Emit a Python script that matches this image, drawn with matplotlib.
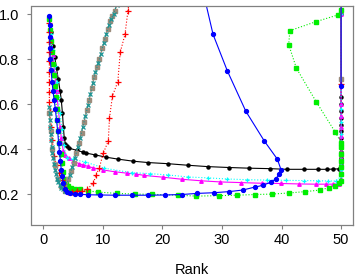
import matplotlib
matplotlib.use("Agg")
import matplotlib.pyplot as plt

plt.rcParams['font.family'] = ['Liberation Sans', 'DejaVu Sans']

# rank / score pairs, one pair of lists per series
black_x = [1, 1.3, 1.6, 1.9, 2.2, 2.5, 2.8, 3.0, 3.2, 3.35, 3.5, 3.7, 3.9, 4.35, 5.6, 6.6, 7.2, 8.7,
           10.5, 12.6, 15.1, 17.6, 20.9, 24.3, 27.6, 31.2, 34.6, 38.0, 40.9, 43.8, 46.1, 47.7, 48.7,
           49.6, 50, 50, 50, 50, 50, 50, 50, 50, 50, 50, 50, 50]
black_y = [0.98, 0.92, 0.86, 0.81, 0.76, 0.71, 0.66, 0.62, 0.56, 0.50, 0.45, 0.425, 0.415, 0.405,
           0.395, 0.388, 0.383, 0.375, 0.365, 0.356, 0.347, 0.341, 0.336, 0.329, 0.323, 0.319, 0.316,
           0.314, 0.311, 0.311, 0.311, 0.311, 0.312, 0.313, 0.33, 0.36, 0.39, 0.42, 0.45, 0.48, 0.51,
           0.54, 0.57, 0.60, 0.63, 1.0]

magenta_x = [1, 1.3, 1.6, 1.9, 2.2, 2.5, 2.8, 3.0, 3.35, 3.7, 4.35, 5.0, 6.0, 6.7, 7.5, 8.4, 10.05,
             12, 14, 15.6, 16.9, 20.1, 23.2, 26.5, 29.7, 33.2, 36.7, 39.9, 43, 45.8, 47.4, 48.6, 49.6,
             50, 50, 50, 50, 50, 50, 50, 50, 50, 50, 50]
magenta_y = [0.98, 0.9, 0.82, 0.74, 0.66, 0.58, 0.5, 0.45, 0.392, 0.375, 0.36, 0.348, 0.336, 0.33,
             0.324, 0.317, 0.308, 0.30, 0.294, 0.29, 0.284, 0.276, 0.267, 0.26, 0.255, 0.252, 0.249,
             0.248, 0.246, 0.245, 0.245, 0.245, 0.246, 0.27, 0.30, 0.33, 0.36, 0.39, 0.42, 0.46, 0.50,
             0.55, 0.60, 1.0]

cyan_x = [1, 1.3, 1.6, 1.9, 2.2, 2.5, 2.8, 3.1, 3.4, 3.9, 5.0, 7.0, 10.2, 14.8, 17.9, 20.9, 24.3,
          27.6, 30.9, 34.2, 37.5, 40.8, 43.8, 46.2, 47.8, 49.1, 50, 50, 50, 50, 50, 50, 50, 50, 50]
cyan_y = [0.98, 0.91, 0.84, 0.77, 0.70, 0.63, 0.56, 0.49, 0.42, 0.363, 0.355, 0.344, 0.316, 0.296,
          0.292, 0.286, 0.277, 0.273, 0.268, 0.265, 0.263, 0.262, 0.261, 0.26, 0.259, 0.259, 0.28,
          0.31, 0.34, 0.38, 0.42, 0.47, 0.52, 0.58, 1.0]

green_x = [1, 1.15, 1.3, 1.45, 1.6, 1.75, 1.9, 2.05, 2.2, 2.35, 2.5, 2.7, 2.9, 3.1, 3.3, 3.55, 3.8,
           4.2, 4.7, 5.3, 6.2, 7.5, 9.2, 12.3, 15.4, 18.2, 22.6, 25.7, 29.5, 32.5, 35.5, 38.4, 41.3,
           44.0, 46.5, 48.0, 48.9, 49.6, 50, 50, 50, 50, 50, 50, 50, 49.0, 45.8, 42.5, 41.2, 41.4,
           45.8, 49.5, 50]
green_y = [0.98, 0.93, 0.88, 0.83, 0.78, 0.73, 0.68, 0.63, 0.58, 0.53, 0.48, 0.43, 0.38, 0.34, 0.30,
           0.27, 0.25, 0.235, 0.228, 0.225, 0.222, 0.215, 0.21, 0.204, 0.201, 0.2, 0.196, 0.192,
           0.194, 0.196, 0.199, 0.201, 0.206, 0.212, 0.219, 0.23, 0.237, 0.248, 0.259, 0.29, 0.32,
           0.35, 0.38, 0.41, 0.43, 0.477, 0.612, 0.76, 0.865, 0.927, 0.967, 0.997, 1.02]

blue_x = [1, 1.03, 1.06, 1.1, 1.15, 1.3, 1.45, 1.6, 1.8, 2.0, 2.2, 2.4, 2.55, 2.7, 2.85, 3.0, 3.15,
          3.35, 3.6, 3.9, 4.5, 5.3, 6.1, 7.5, 9.5, 12, 14.8, 17.6, 20.4, 23.2, 25.8, 28.6, 31.2, 33.5,
          35.5, 36.9, 38.3, 39.1, 39.6, 39.9, 39.3, 37.1, 34.0, 30.9, 28.5, 27.0, 50, 50]
blue_y = [0.99, 0.95, 0.9, 0.85, 0.8, 0.75, 0.7, 0.66, 0.62, 0.58, 0.53, 0.48, 0.43, 0.39, 0.35,
          0.31, 0.28, 0.25, 0.225, 0.21, 0.205, 0.2, 0.2, 0.198, 0.197, 0.196, 0.196, 0.196, 0.197,
          0.199, 0.204, 0.207, 0.212, 0.219, 0.232, 0.24, 0.255, 0.27, 0.292, 0.31, 0.356, 0.437,
          0.569, 0.748, 0.91, 1.08, 1.3, 0.68]

red_x = [1, 1, 1, 1, 1, 1, 1, 1, 1, 1.1, 1.3, 1.5, 1.8, 2.2, 2.7, 3.1, 3.5, 4.2, 4.75, 5.6, 6.5, 7.3,
         8.4, 8.8, 9.4, 10.05, 10.9, 11.1, 11.6, 12.5, 12.9, 13.7, 14.2, 14.6, 50, 50]
red_y = [0.96, 0.92, 0.875, 0.83, 0.79, 0.745, 0.70, 0.655, 0.61, 0.57, 0.50, 0.44, 0.37, 0.33,
         0.296, 0.265, 0.244, 0.21, 0.209, 0.215, 0.215, 0.222, 0.248, 0.284, 0.318, 0.382, 0.437,
         0.54, 0.637, 0.70, 0.83, 0.91, 1.015, 1.1, 1.3, 0.69]

gray_x = [1, 1.2, 1.5, 1.9, 2.4, 3.0, 3.7, 4.2, 4.6, 5.1, 5.5, 6.0, 6.4, 6.8, 7.3, 7.7, 8.1, 8.5,
          9.0, 9.4, 9.9, 10.3, 10.8, 11.2, 11.6, 12.0, 12.5, 50, 50]
gray_y = [0.56, 0.48, 0.40, 0.33, 0.27, 0.235, 0.215, 0.267, 0.305, 0.34, 0.385, 0.43, 0.474, 0.52,
          0.575, 0.62, 0.67, 0.72, 0.765, 0.80, 0.85, 0.89, 0.933, 0.97, 0.99, 1.015, 1.06, 1.3, 0.71]

teal_x = [1, 1.05, 1.1, 1.15, 1.2, 1.3, 1.4, 1.5, 1.65, 1.8, 1.95, 2.1, 2.3, 2.5, 2.75, 3.0, 3.3,
          3.7, 4.4, 4.85, 5.3, 5.75, 6.2, 6.6, 7.05, 7.5, 7.9, 8.3, 8.75, 9.2, 9.65, 10.1, 10.55,
          11.0, 11.4, 11.8, 12.3]
teal_y = [0.59, 0.56, 0.53, 0.50, 0.47, 0.44, 0.41, 0.385, 0.36, 0.335, 0.31, 0.29, 0.27, 0.255,
          0.24, 0.23, 0.222, 0.215, 0.286, 0.322, 0.362, 0.408, 0.452, 0.497, 0.547, 0.597, 0.645,
          0.695, 0.742, 0.782, 0.825, 0.87, 0.912, 0.952, 0.98, 1.003, 1.04]

fig = plt.figure(figsize=(3.6, 2.77), dpi=100)
ax = fig.add_axes([0.0875, 0.188, 0.893, 0.79])

ax.plot(black_x, black_y, '-', color='black', lw=0.8, marker='o', ms=2.2)
ax.plot(magenta_x, magenta_y, '-', color='magenta', lw=0.8, marker='^', ms=2.5)
ax.plot(cyan_x, cyan_y, ':', color='cyan', lw=0.8, marker='+', ms=3.5, mew=0.9)
ax.plot(green_x, green_y, ':', color='#00ee00', lw=0.8, marker='s', ms=2.2)
ax.plot(red_x, red_y, ':', color='red', lw=0.8, marker='+', ms=4, mew=0.9)
ax.plot(gray_x, gray_y, '-', color='#9c8c7c', lw=0.9, marker='s', ms=2.6)
ax.plot(teal_x, teal_y, ':', color='#1a9494', lw=0.8, marker='x', ms=2.6, mew=0.9)
ax.plot(blue_x, blue_y, '-', color='blue', lw=0.8, marker='o', ms=2.8)

ax.set_xlim(-2, 52)
ax.set_ylim(0.064, 1.036)
ax.set_xticks([0, 10, 20, 30, 40, 50])
ax.set_yticks([0.2, 0.4, 0.6, 0.8, 1.0])
for s in ax.spines.values():
    s.set_color('#808080')
    s.set_linewidth(0.9)
ax.tick_params(axis='both', color='#808080', length=3, width=0.8, labelsize=10.5)
ax.tick_params(axis='x', pad=3)
ax.tick_params(axis='y', pad=6)
ax.set_xlabel("Rank", fontsize=10.5, labelpad=11)

fig.savefig("out.png", dpi=100)
